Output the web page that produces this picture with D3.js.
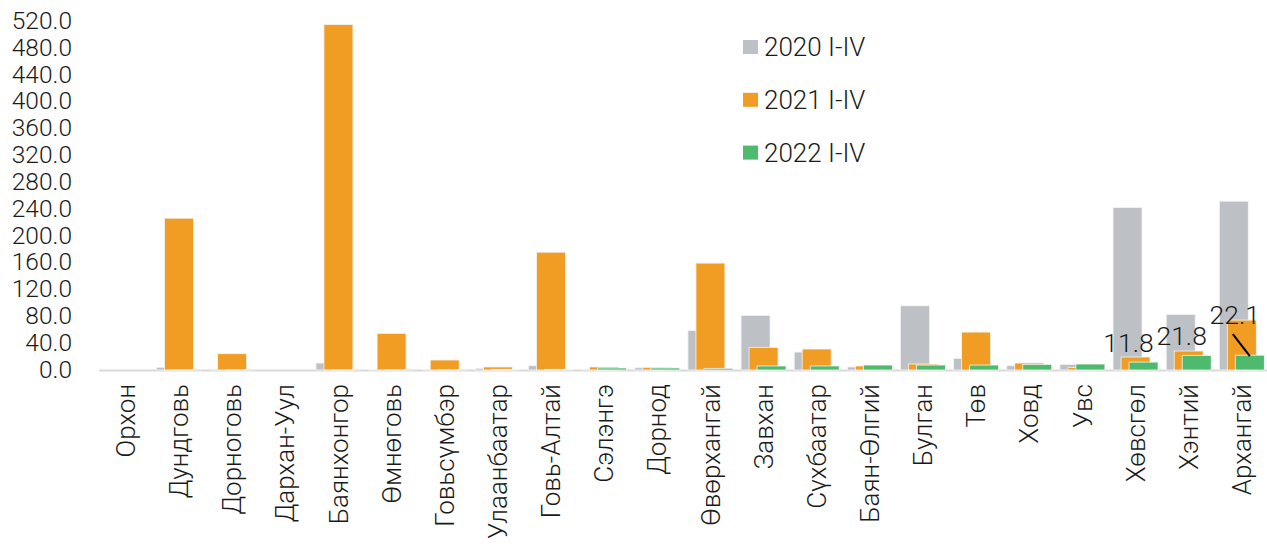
<!DOCTYPE html>
<html>
<head>
<meta charset="utf-8">
<script src="https://cdn.jsdelivr.net/npm/d3@7"></script>
<style>
  body { margin: 0; background: #fff; }
  text { font-family: Roboto, "Noto Sans", sans-serif; fill: #1a1a1a; font-weight: 300; }
</style>
</head>
<body>
<script>
// aimags, in chart order
var aimags = ["Орхон","Дундговь","Дорноговь","Дархан-Уул","Баянхонгор","Өмнөговь","Говьсүмбэр",
  "Улаанбаатар","Говь-Алтай","Сэлэнгэ","Дорнод","Өвөрхангай","Завхан","Сүхбаатар","Баян-Өлгий",
  "Булган","Төв","Ховд","Увс","Хөвсгөл","Хэнтий","Архангай"];

var seriesNames = ["2020 I-IV","2021 I-IV","2022 I-IV"];

var v2020 = [0, 4, 0.5, 0, 10.4, 1, 0.5, 2.5, 6.4, 0.5, 3.4, 59, 81.5, 26.8, 4.5, 95.8, 17.4, 6.4, 8.4, 242.4, 83, 251.9];
var v2021 = [0, 226.5, 24.3, 0, 515.6, 54.7, 14.9, 4.5, 175.8, 4.5, 4, 159.5, 33.8, 31.3, 6, 8.9, 56.6, 10.4, 3.5, 19.4, 28.3, 74.5];
var v2022 = [0, 0.3, 0.3, 0, 0.3, 0.3, 0.3, 1, 1, 3, 3, 2.5, 6, 6, 7.4, 7.4, 7.4, 8.4, 8.9, 11.8, 21.8, 22.1];

var yTicks = [0,40,80,120,160,200,240,280,320,360,400,440,480,520];
var labelled = ["Хөвсгөл","Хэнтий","Архангай"]; // 2022 values shown as labels

var colors = ["#bdc1c5","#f19c22","#4dba6d"];

var W = 1267, H = 544;
var svg = d3.select("body").append("svg").attr("width",W).attr("height",H);

var x = d3.scaleBand().domain(aimags).range([99.3, 1268.4]).padding(0);
var y = d3.scaleLinear().domain([0,520]).range([370, 21.5]);

var barW = 29, step = 8;
var series = [v2020, v2021, v2022];

// y tick labels (no axis line)
svg.append("g").selectAll("text").data(yTicks).enter().append("text")
  .attr("x",72).attr("y",function(d){return y(d)-1;}).attr("dy","0.35em")
  .attr("text-anchor","end").style("font-size","24.5px")
  .text(function(d){return d3.format(".1f")(d);});

// baseline
svg.append("line").attr("x1",99.3).attr("x2",W).attr("y1",y(0)+0.5).attr("y2",y(0)+0.5)
  .attr("stroke","#d9d9d9").attr("stroke-width",2);

series.forEach(function(vals,si){
  svg.append("g").selectAll("rect").data(aimags).enter().append("rect")
    .attr("x",function(d){return x(d)+x.bandwidth()/2+(si-1)*step-barW/2;})
    .attr("width",barW)
    .attr("y",function(d,i){return y(vals[i]);})
    .attr("height",function(d,i){return y(0)-y(vals[i]);})
    .attr("fill",colors[si])
    .attr("stroke","#f4f4f4").attr("stroke-width",0.8);
});

// category labels
svg.append("g").selectAll("text").data(aimags).enter().append("text")
  .attr("transform",function(d){return "translate("+(x(d)+x.bandwidth()/2)+",384) rotate(-90)";})
  .attr("dy","0.35em").attr("text-anchor","end").style("font-size","26px")
  .text(function(d){return d;});

// data labels on the last 2022 bars
labelled.forEach(function(name,k){
  var i = aimags.indexOf(name);
  var cx = x(name)+x.bandwidth()/2;
  var top = y(v2022[i]);
  var lifted = (k===labelled.length-1);
  var ly = lifted ? top-31 : top-10.5;
  var lx = cx-7;
  svg.append("text").attr("x",lx).attr("y",ly).attr("text-anchor","middle")
    .style("font-size","26.5px").text(d3.format(".1f")(v2022[i]));
  if(lifted){
    svg.append("line").attr("x1",lx-2).attr("y1",ly+10).attr("x2",cx+step).attr("y2",top+1)
      .attr("stroke","#000").attr("stroke-width",2);
  }
});

// legend
var leg = svg.append("g").selectAll("g").data(seriesNames).enter().append("g")
  .attr("transform",function(d,i){return "translate(743,"+(40+i*52.8)+")";});
leg.append("rect").attr("width",15).attr("height",14).attr("fill",function(d,i){return colors[i];});
leg.append("text").attr("x",21).attr("y",7).attr("dy","0.35em").style("font-size","26px")
  .text(function(d){return d;});
</script>
</body>
</html>
